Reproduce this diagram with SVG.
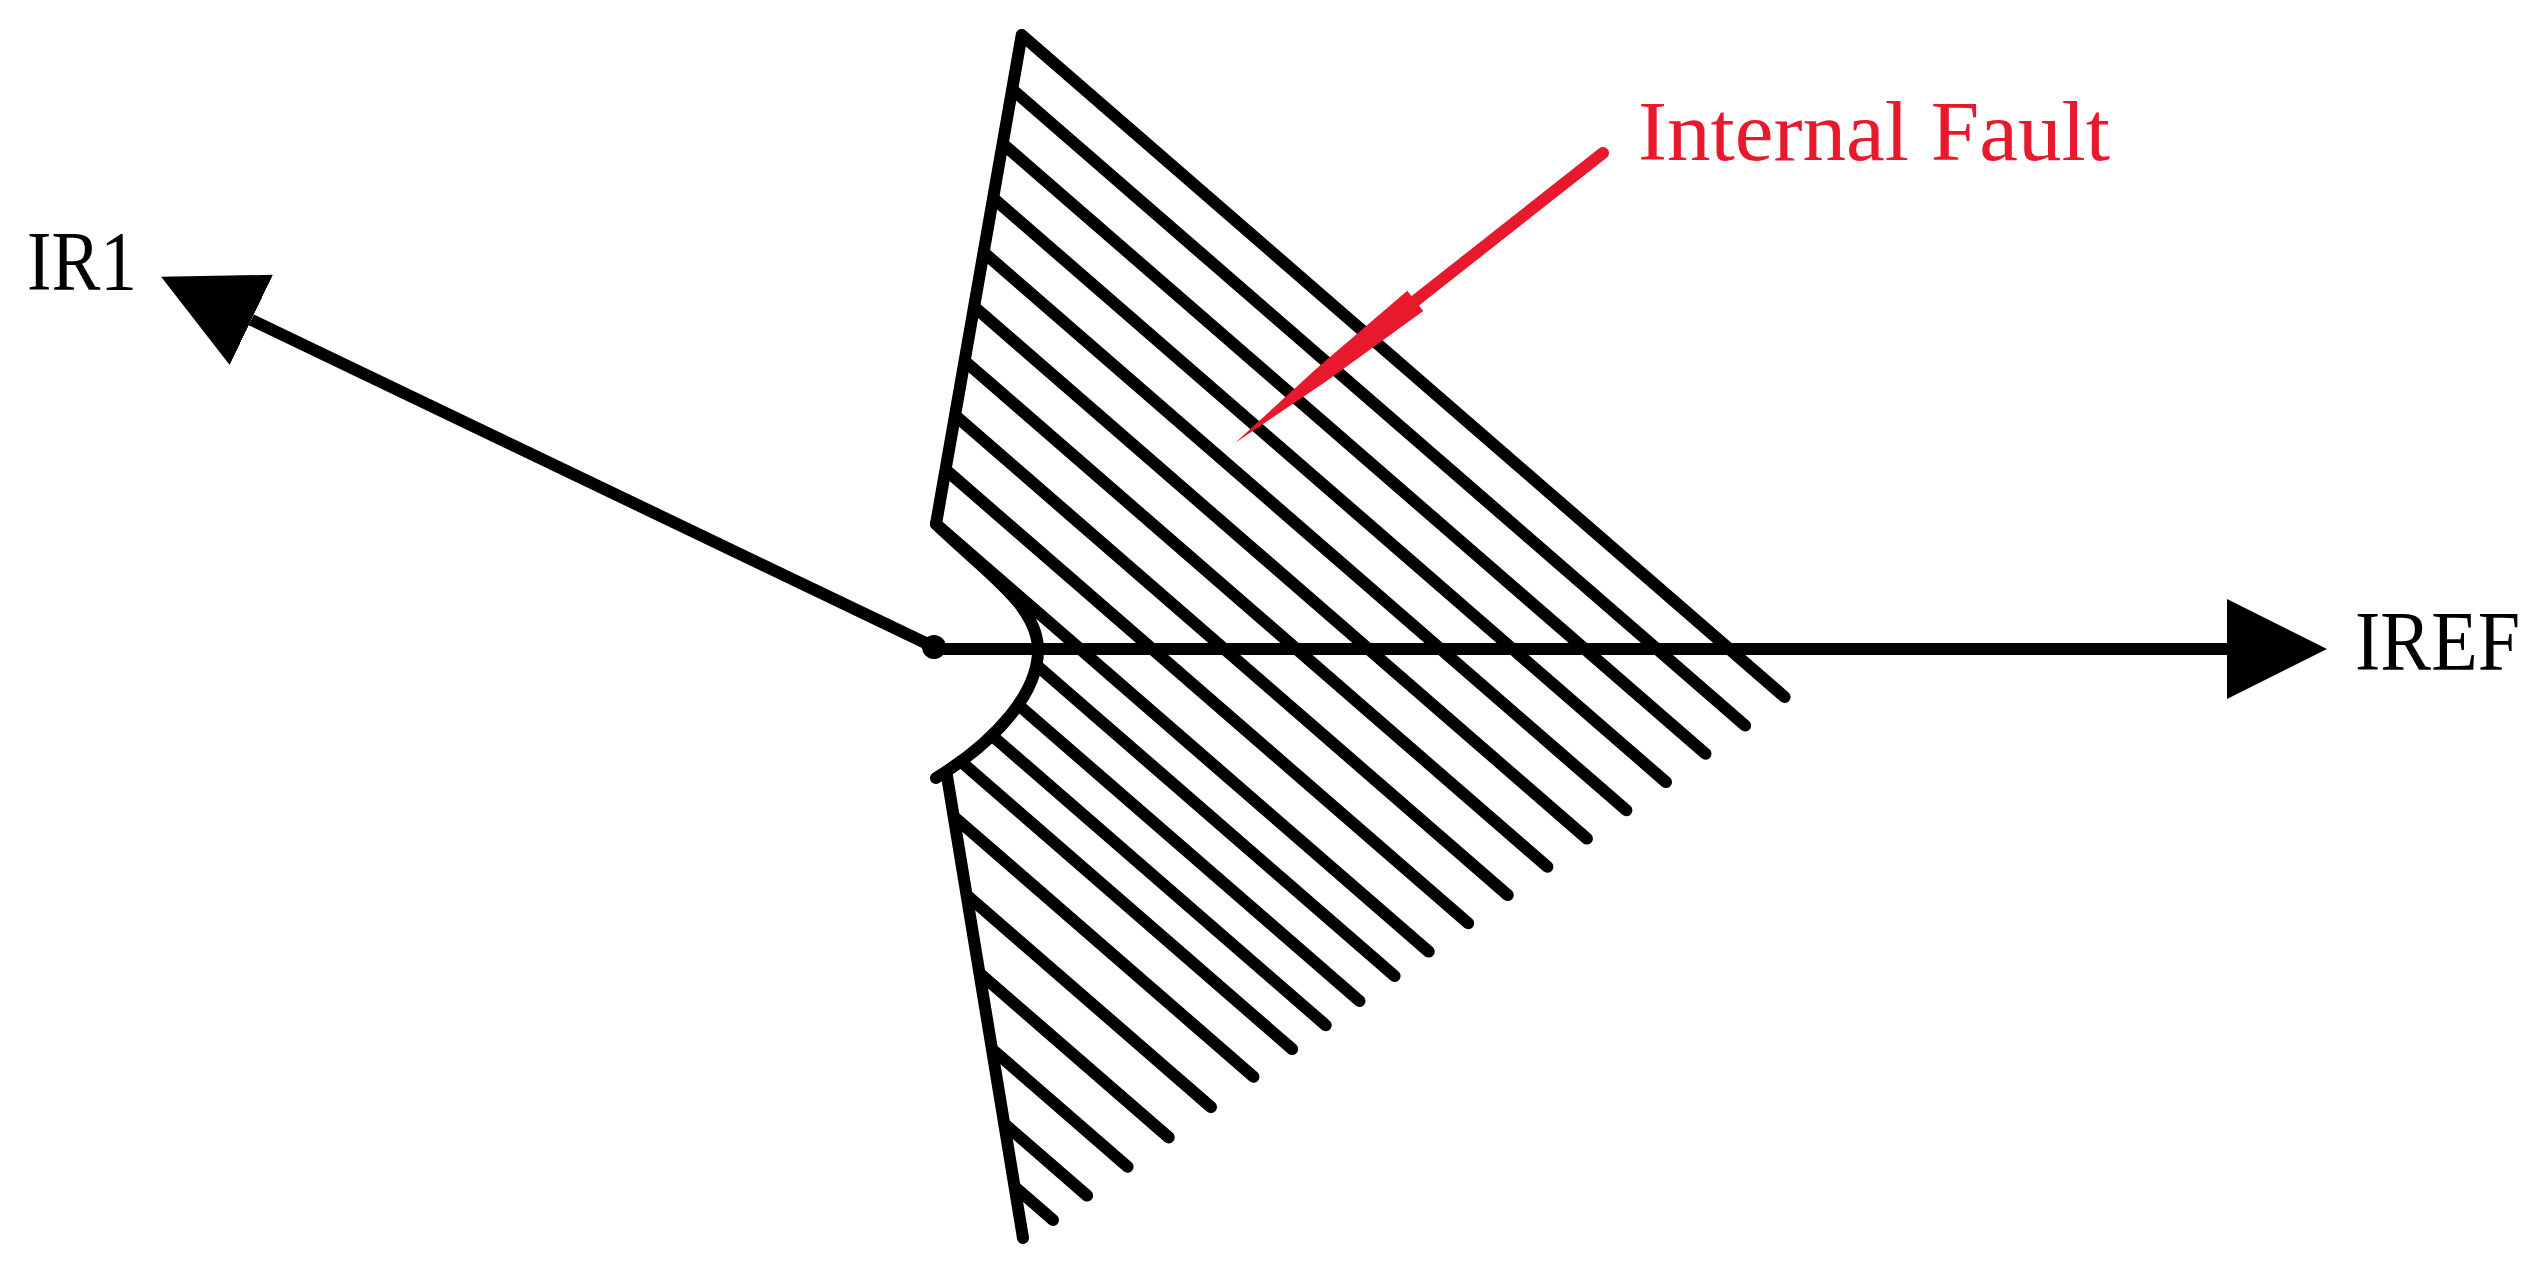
<svg xmlns="http://www.w3.org/2000/svg" width="2546" height="1273" viewBox="0 0 2546 1273">
  <style>
    .ln { stroke: #000; stroke-width: 12; fill: none; stroke-linecap: round; stroke-linejoin: round; }
    .axis { stroke: #000; stroke-width: 12; fill: none; }
    .lbl { font-family: "Liberation Serif", "Times New Roman", serif; font-size: 84px; fill: #000; }
    .red { fill: #e8192c; }
  </style>
  <defs>
    <marker id="head" viewBox="0 0 100 100" refX="0" refY="50" markerWidth="100" markerHeight="100" markerUnits="userSpaceOnUse" orient="auto">
      <path d="M0,0 L100,50 L0,100 Z" fill="#000"/>
    </marker>
    <clipPath id="region">
      <path d="M1021.7,0 L1021.7,35 L936,524 C985,572 1038,605 1038,650 C1038,692 998,740 938,777 L947,776 L1023,1238 L1023,1273 L2546,1273 L2546,0 Z"/>
    </clipPath>
  </defs>
  <rect width="2546" height="1273" fill="#fff"/>

  <g id="fault-region">
    <g clip-path="url(#region)" class="ln">
      <line x1="880" y1="-25.4" x2="1745.1" y2="725.5"/>
      <line x1="880" y1="37.2" x2="1705.5" y2="753.8"/>
      <line x1="880" y1="99.8" x2="1666.0" y2="782.1"/>
      <line x1="880" y1="162.4" x2="1626.4" y2="810.3"/>
      <line x1="880" y1="225.0" x2="1586.9" y2="838.6"/>
      <line x1="880" y1="287.5" x2="1547.4" y2="866.8"/>
      <line x1="880" y1="350.1" x2="1507.8" y2="895.1"/>
      <line x1="880" y1="412.7" x2="1468.2" y2="923.3"/>
      <line x1="880" y1="529.3" x2="1394.6" y2="976.0"/>
      <line x1="880" y1="584.8" x2="1359.5" y2="1001.0"/>
      <line x1="880" y1="638.3" x2="1325.7" y2="1025.2"/>
      <line x1="880" y1="691.3" x2="1292.2" y2="1049.1"/>
      <line x1="880" y1="752.5" x2="1253.5" y2="1076.7"/>
      <line x1="880" y1="819.8" x2="1211.0" y2="1107.1"/>
      <line x1="880" y1="886.8" x2="1168.7" y2="1137.4"/>
      <line x1="880" y1="951.8" x2="1127.6" y2="1166.8"/>
      <line x1="880" y1="1015.8" x2="1087.1" y2="1195.6"/>
      <line x1="880" y1="1069.8" x2="1053.0" y2="1220.0"/>
    </g>
    <line class="ln" x1="936" y1="524" x2="1428.7" y2="951.6"/>
    <path class="ln" d="M1784.6,697 L1021.7,35 L936,524 C985,572 1038,605 1038,650 C1038,692 998,740 936,778"/>
    <path class="ln" d="M947,776 L1023,1238"/>
  </g>

  <g id="connectors">
    <line class="axis" x1="934" y1="649" x2="2227" y2="649" marker-end="url(#head)"/>
    <line class="axis" x1="934" y1="647" x2="251.3" y2="319.9" marker-end="url(#head)"/>
    <circle cx="934" cy="647" r="12" fill="#000"/>
    <g id="fault-arrow">
      <line x1="1603" y1="153" x2="1415" y2="301" stroke="#e8192c" stroke-width="12" stroke-linecap="round"/>
      <polygon class="red" points="1407.3,290.7 1316.0,368.9 1235,443 1326.0,381.5 1423.3,311.1"/>
    </g>
  </g>

  <g id="label-ir1">
    <text class="lbl" x="27" y="290" textLength="110" lengthAdjust="spacingAndGlyphs">IR1</text>
  </g>
  <g id="label-iref">
    <text class="lbl" x="2355" y="670" textLength="165" lengthAdjust="spacingAndGlyphs">IREF</text>
  </g>
  <g id="label-fault">
    <text class="lbl" x="1638" y="160" textLength="472" lengthAdjust="spacingAndGlyphs" style="fill:#e8192c">Internal Fault</text>
  </g>
</svg>
